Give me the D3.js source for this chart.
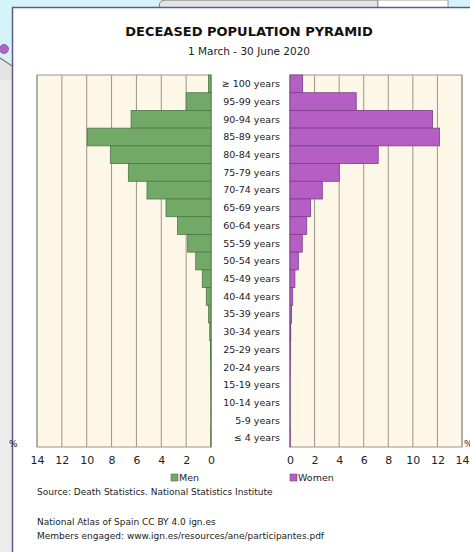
<!DOCTYPE html>
<html>
<head>
<meta charset="utf-8">
<script src="https://cdn.jsdelivr.net/npm/d3@7"></script>
<style>
  body { margin: 0; background: #fff; }
  svg { display: block; font-family: "DejaVu Sans", sans-serif; }
</style>
</head>
<body>
<div id="chart"></div>
<script>
// age groups, top to bottom
const ages = ["≥ 100 years", "95-99 years", "90-94 years", "85-89 years", "80-84 years",
    "75-79 years", "70-74 years", "65-69 years", "60-64 years", "55-59 years",
    "50-54 years", "45-49 years", "40-44 years", "35-39 years", "30-34 years",
    "25-29 years", "20-24 years", "15-19 years", "10-14 years", "5-9 years", "≤ 4 years"];

// % of deceased, men
const men = [0.21, 2.0, 6.43, 9.95, 8.1, 6.65, 5.15, 3.62, 2.7, 1.88,
    1.23, 0.7, 0.38, 0.19, 0.1, 0.05, 0.03, 0.02, 0.01, 0.01, 0.02];

// % of deceased, women
const women = [1.03, 5.39, 11.6, 12.17, 7.18, 4.01, 2.63, 1.68, 1.36, 1.0,
    0.68, 0.4, 0.22, 0.13, 0.06, 0.04, 0.02, 0.01, 0.01, 0.01, 0.02];

const ticks = [0, 2, 4, 6, 8, 10, 12, 14];

const W = 470, H = 552;

const svg = d3.select("#chart")
    .append("svg")
    .attr("width", W)
    .attr("height", H);

// map behind the panel
svg.append("rect").attr("width", W).attr("height", H).attr("fill", "#d4f4fa");
svg.append("path")
    .attr("d", "M160,8 C158,3 161,0 166,0 L378,0 L378,8 Z")
    .attr("fill", "#e4e4e4").attr("stroke", "#777").attr("stroke-width", 1);
svg.append("rect").attr("x", 378).attr("y", 0).attr("width", 70).attr("height", 8)
    .attr("fill", "#fff").attr("stroke", "#888").attr("stroke-width", 0.8);
svg.append("path")
    .attr("d", "M0,56 L12,64 L12,80 L0,80 Z")
    .attr("fill", "#e4e4e4");
svg.append("path")
    .attr("d", "M0,58 L12,66")
    .attr("stroke", "#555").attr("stroke-width", 1);
svg.append("rect").attr("x", 0).attr("y", 80).attr("width", 12).attr("height", H - 80)
    .attr("fill", "#ececec");
svg.append("circle").attr("cx", 4).attr("cy", 49).attr("r", 4.5)
    .attr("fill", "#b065c8").attr("stroke", "#8a4aa0").attr("stroke-width", 0.8);

// white panel
svg.append("rect")
    .attr("x", 12.5).attr("y", 7.5)
    .attr("width", W).attr("height", H)
    .attr("fill", "#fff")
    .attr("stroke", "#5b5a8c")
    .attr("stroke-width", 1.5);

// titles
svg.append("text")
    .attr("x", 249).attr("y", 36)
    .attr("text-anchor", "middle")
    .attr("font-weight", "bold")
    .attr("font-size", "13px")
    .attr("fill", "#111")
    .text("DECEASED POPULATION PYRAMID");

svg.append("text")
    .attr("x", 249).attr("y", 55)
    .attr("text-anchor", "middle")
    .attr("font-size", "10.5px")
    .attr("fill", "#222")
    .text("1 March - 30 June 2020");

// scales
const y = d3.scaleBand()
    .domain(ages)
    .range([75, 447]);

const xL = d3.scaleLinear().domain([0, 14]).range([211, 37]);
const xR = d3.scaleLinear().domain([0, 14]).range([290, 462]);

function panel(x, data, fill, stroke) {
    const g = svg.append("g");
    const r = x.range();
    g.append("rect")
        .attr("x", Math.min(r[0], r[1]))
        .attr("y", y.range()[0])
        .attr("width", Math.abs(r[1] - r[0]))
        .attr("height", y.range()[1] - y.range()[0])
        .attr("fill", "#fdf7e7");

    g.selectAll("line.grid")
        .data(ticks)
        .enter()
        .append("line")
        .attr("class", "grid")
        .attr("x1", d => x(d))
        .attr("x2", d => x(d))
        .attr("y1", y.range()[0])
        .attr("y2", y.range()[1])
        .attr("stroke", "#9c948a")
        .attr("stroke-width", 1);

    g.append("rect")
        .attr("x", Math.min(r[0], r[1]))
        .attr("y", y.range()[0])
        .attr("width", Math.abs(r[1] - r[0]))
        .attr("height", y.range()[1] - y.range()[0])
        .attr("fill", "none")
        .attr("stroke", "#9c948a");

    g.selectAll("rect.bar")
        .data(data)
        .enter()
        .append("rect")
        .attr("class", "bar")
        .attr("x", d => Math.min(x(0), x(d)))
        .attr("y", (d, i) => y(ages[i]))
        .attr("width", d => Math.abs(x(d) - x(0)))
        .attr("height", y.bandwidth())
        .attr("fill", fill)
        .attr("stroke", stroke)
        .attr("stroke-width", 0.8);

    const ax = svg.append("g")
        .attr("transform", "translate(0," + 456 + ")")
        .call(d3.axisBottom(x).tickValues(ticks).tickSize(0).tickPadding(0));
    ax.select(".domain").remove();
    ax.selectAll("text")
        .attr("font-family", "DejaVu Sans, sans-serif")
        .attr("font-size", "11px")
        .attr("fill", "#222");
}

panel(xL, men, "#72a967", "#4f7748");
panel(xR, women, "#b55fc4", "#7c3f88");

// age labels
svg.append("g")
    .selectAll("text")
    .data(ages)
    .enter()
    .append("text")
    .attr("x", 280)
    .attr("y", d => y(d) + y.bandwidth() / 2)
    .attr("dy", "0.35em")
    .attr("text-anchor", "end")
    .attr("font-size", "9.5px")
    .attr("fill", "#222")
    .text(d => d);

// % marks
svg.append("text").attr("x", 9).attr("y", 447).attr("font-size", "9px").attr("fill", "#222").text("%");
svg.append("text").attr("x", 464).attr("y", 447).attr("font-size", "9px").attr("fill", "#222").text("%");

// legend
const legend = [
    { name: "Men", x: 171, fill: "#72a967", stroke: "#4f7748" },
    { name: "Women", x: 290, fill: "#b55fc4", stroke: "#7c3f88" }
];
const lg = svg.append("g").selectAll("g").data(legend).enter().append("g");
lg.append("rect")
    .attr("x", d => d.x).attr("y", 474)
    .attr("width", 7).attr("height", 7)
    .attr("fill", d => d.fill)
    .attr("stroke", d => d.stroke).attr("stroke-width", 0.6);
lg.append("text")
    .attr("x", d => d.x + 8).attr("y", 481)
    .attr("font-size", "9.5px")
    .attr("fill", "#222")
    .text(d => d.name);

// footer
const notes = [
    { t: "Source: Death Statistics. National Statistics Institute", y: 495 },
    { t: "National Atlas of Spain CC BY 4.0 ign.es", y: 525 },
    { t: "Members engaged: www.ign.es/resources/ane/participantes.pdf", y: 539 }
];
svg.append("g").selectAll("text").data(notes).enter().append("text")
    .attr("x", 37).attr("y", d => d.y)
    .attr("font-size", "9px")
    .attr("fill", "#222")
    .text(d => d.t);
</script>
</body>
</html>
